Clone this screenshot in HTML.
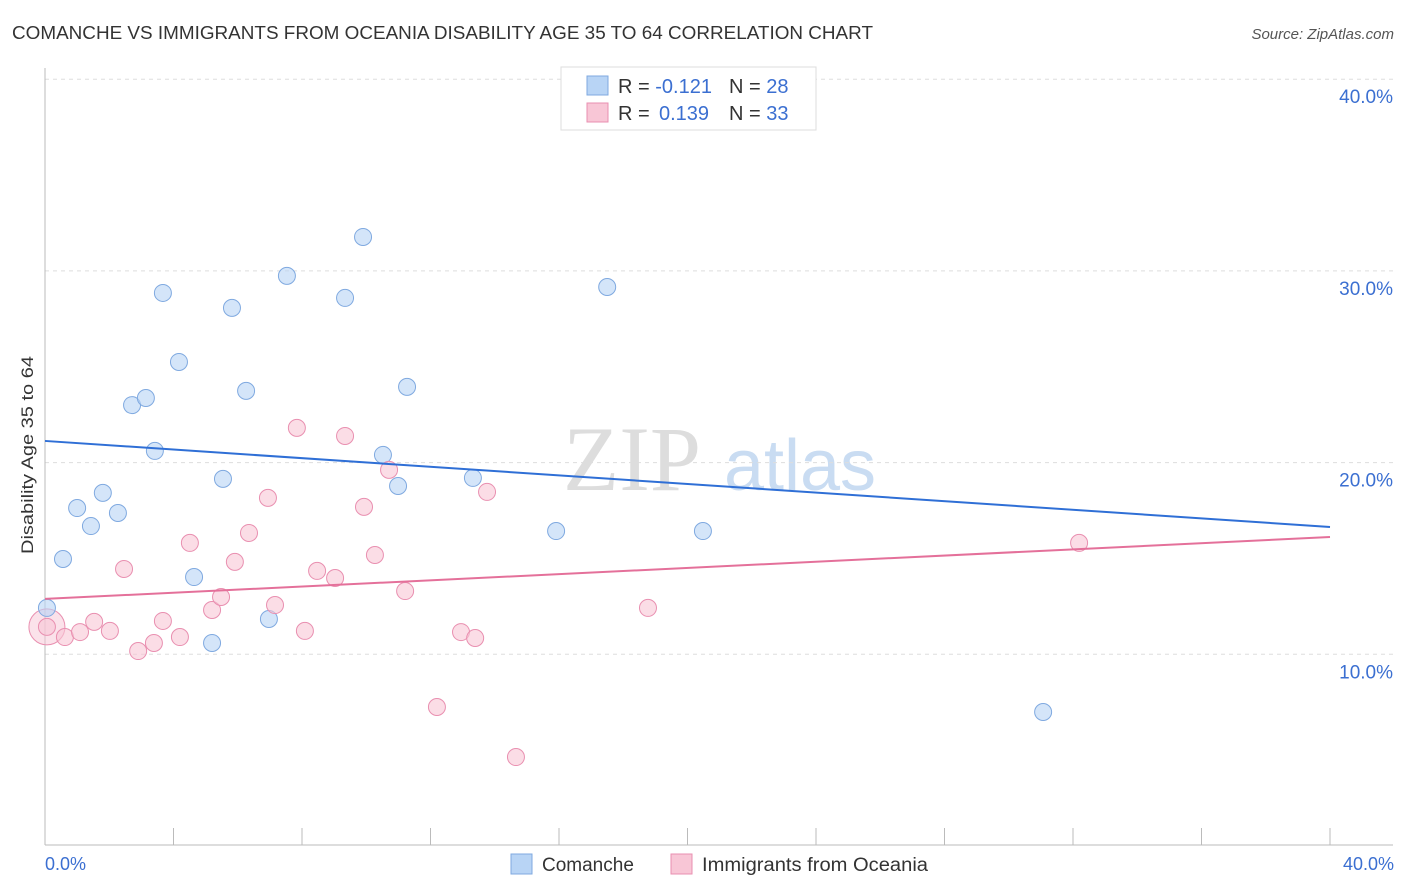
<!DOCTYPE html>
<html><head><meta charset="utf-8"><style>
body{margin:0;background:#fff;font-family:"Liberation Sans",sans-serif;}
svg{display:block}
</style></head><body>
<svg id="chart" width="1406" height="892" xmlns="http://www.w3.org/2000/svg">
<text x="12" y="39" font-size="18" fill="#333" textLength="861" lengthAdjust="spacingAndGlyphs">COMANCHE VS IMMIGRANTS FROM OCEANIA DISABILITY AGE 35 TO 64 CORRELATION CHART</text>
<text x="1394" y="39" font-size="15" fill="#555" text-anchor="end" font-style="italic">Source: ZipAtlas.com</text>
<g>
<text x="632" y="490" font-size="92" fill="#ddd" text-anchor="middle" font-family="Liberation Serif,serif">ZIP</text>
<text x="800" y="490" font-size="72" fill="#c9dcf2" text-anchor="middle">atlas</text>
</g>
<g id="grid"></g>
<g id="axes"></g>
<g id="points"></g>
<g>
<rect x="561" y="67" width="255" height="63" fill="#fff" stroke="#ddd"/>
<rect x="587" y="76" width="21" height="19" fill="#b8d4f5" stroke="#7fa9e0"/>
<rect x="587" y="103" width="21" height="19" fill="#f8c6d6" stroke="#e98fb0"/>
<text x="618" y="93" font-size="20" fill="#333">R = <tspan fill="#3b6fd1">-0.121</tspan><tspan x="729">N = </tspan><tspan fill="#3b6fd1">28</tspan></text>
<text x="618" y="120" font-size="20" fill="#333">R = <tspan fill="#3b6fd1" x="659">0.139</tspan><tspan x="729">N = </tspan><tspan fill="#3b6fd1">33</tspan></text>
</g>
<text transform="translate(33,455) rotate(-90)" font-size="17" fill="#333" text-anchor="middle" textLength="198" lengthAdjust="spacingAndGlyphs">Disability Age 35 to 64</text>
<text x="45" y="870" font-size="18" fill="#3b6fd1">0.0%</text>
<text x="1394" y="870" font-size="18" fill="#3b6fd1" text-anchor="end">40.0%</text>
<g>
<rect x="511" y="854" width="21" height="20" fill="#b8d4f5" stroke="#7fa9e0"/>
<text x="542" y="871" font-size="19" fill="#333">Comanche</text>
<rect x="671" y="854" width="21" height="20" fill="#f8c6d6" stroke="#e98fb0"/>
<text x="702" y="871" font-size="19" fill="#333" textLength="226" lengthAdjust="spacingAndGlyphs">Immigrants from Oceania</text>
</g>
</svg>
<script>
const yTicks=[10,20,30,40];
const yTickLabels=["10.0%","20.0%","30.0%","40.0%"];
const blueX=[0.06,0.56,1.00,1.43,1.80,2.27,2.71,3.14,3.42,3.67,4.17,4.64,5.20,5.54,5.82,6.26,6.97,7.53,9.34,9.90,10.52,10.99,11.27,13.32,15.91,17.50,20.48,31.07];
const blueY=[12.42,14.97,17.63,16.69,18.42,17.37,23.0,23.37,20.61,28.85,25.25,14.03,10.59,19.15,28.07,23.74,11.84,29.74,28.59,31.77,20.40,18.78,23.95,19.20,16.43,29.16,16.43,6.99];
const pinkX=[0.06,0.62,1.09,1.53,2.02,2.46,2.90,3.39,3.67,4.20,4.51,5.20,5.48,5.91,6.35,6.94,7.16,7.84,8.09,8.47,9.03,9.34,9.93,10.27,10.71,11.21,12.20,12.95,13.39,13.76,14.66,18.77,32.19];
const pinkY=[11.43,10.90,11.16,11.69,11.22,14.45,10.17,10.59,11.74,10.90,15.81,12.31,12.99,14.82,16.33,18.16,12.57,21.81,11.22,14.35,13.98,21.39,17.69,15.18,19.62,13.30,7.25,11.16,10.85,18.47,4.64,12.42,15.81];
const blueTrend=[21.13,16.64];
const pinkTrend=[12.89,16.12];
const NS="http://www.w3.org/2000/svg";
const X=v=>45+v/40*1285;
const Y=v=>846-v*19.17;
function mk(t,a,p){const e=document.createElementNS(NS,t);for(const k in a)e.setAttribute(k,a[k]);p.appendChild(e);return e;}
const grid=document.getElementById('grid'),axes=document.getElementById('axes'),pts=document.getElementById('points');
yTicks.forEach((t,i)=>{
 const l=mk('line',{x1:45,x2:1393,y1:Y(t),y2:Y(t),stroke:'#ddd','stroke-dasharray':'4,4'},grid);
 
 
 const tx=mk('text',{x:1393,y:Y(t)+24,'font-size':19,fill:'#3b6fd1','text-anchor':'end'},grid);
 tx.textContent=yTickLabels[i];
 
 
});
const xa=mk('line',{x1:45,x2:1393,y1:845,y2:845,stroke:'#bbb'},axes);


const ya=mk('line',{x1:45,x2:45,y1:68,y2:845,stroke:'#bbb'},axes);


for(let i=1;i<=10;i++){const t=mk('line',{x1:X(i*4),x2:X(i*4),y1:828,y2:845,stroke:'#bbb'},axes);
 
 }
function dots(xs,ys,fill,stroke,name){xs.forEach((x,i)=>{
 const c=mk('circle',{cx:X(x),cy:Y(ys[i]),r:8.5,fill:fill,'fill-opacity':0.6,stroke:stroke,'stroke-width':1},pts);
 
 });}
const big=mk('circle',{cx:X(pinkX[0]),cy:Y(pinkY[0]),r:18,fill:'#f8c6d6','fill-opacity':0.5,stroke:'#e98fb0'},pts);


dots(blueX,blueY,'#b8d4f5','#7fa9e0','comanche-point');
dots(pinkX,pinkY,'#f8c6d6','#e98fb0','oceania-point');
const bl=mk('line',{x1:X(0),x2:X(40),y1:Y(blueTrend[0]),y2:Y(blueTrend[1]),stroke:'#2f6fd6','stroke-width':2},pts);


const pl=mk('line',{x1:X(0),x2:X(40),y1:Y(pinkTrend[0]),y2:Y(pinkTrend[1]),stroke:'#e4709a','stroke-width':2},pts);


</script>
</body></html>
